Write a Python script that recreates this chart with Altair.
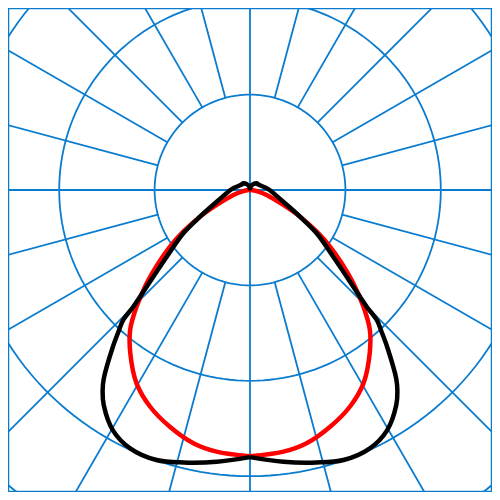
import altair as alt
import pandas as pd

BLUE = "#0a7ccf"

# polar grid
ring_values = [100, 200, 300, 400]
spoke_angles = list(range(0, 360, 15))

# red curve: angle from nadir (deg) and intensity (one half, symmetric)
red_gamma = [0, 7.3, 12.6, 18.7, 24.8, 30.4, 36.3, 40.6, 44.2, 47.9, 51.4, 54.7, 58, 61.9, 65.8, 73.3, 80, 85, 90]
red_value = [279, 276.5, 272, 262, 250, 235, 212, 193, 170.5, 146, 123, 103, 82.5, 59.4, 38.3, 18.2, 8, 3, 0]

# black curve
black_gamma = [0, 7, 13.7, 19.1, 24.9, 29.7, 34.2, 36.25, 37.8, 41.1, 42.9, 44.3, 45, 48.1, 51.3, 57, 61.9, 70.6, 80, 90, 96, 123, 135, 150, 165, 180]
black_value = [280, 287, 294, 299.5, 298.5, 290, 272.7, 261.3, 250, 219, 202.4, 190.3, 173, 136.2, 111.8, 83.3, 59.4, 37, 26.5, 20.5, 17.6, 10.5, 10, 7.3, 4.2, 1.6]


def closed_curve(gammas, values, name):
    rows = []
    k = 0
    for g, v in zip(gammas, values):
        rows.append({"series": name, "gamma": g, "side": -1, "value": v, "order": k})
        k += 1
    for g, v in zip(reversed(gammas[:-1]), reversed(values[:-1])):
        rows.append({"series": name, "gamma": g, "side": 1, "value": v, "order": k})
        k += 1
    return pd.DataFrame(rows)


red_df = closed_curve(red_gamma, red_value, "red")
black_df = closed_curve(black_gamma, black_value, "black")
rings_df = pd.DataFrame({"ring": ring_values})
spokes_df = pd.DataFrame({"angle": spoke_angles})

PX = 0.954
xscale = alt.Scale(domain=[-242 / PX, 242 / PX], nice=False, zero=False)
yscale = alt.Scale(domain=[-302 / PX, 182 / PX], nice=False, zero=False)


def curve(df, color):
    return (
        alt.Chart(df)
        .transform_calculate(
            px="datum.side * datum.value * sin(datum.gamma * PI / 180)",
            py="-datum.value * cos(datum.gamma * PI / 180)",
        )
        .mark_line(interpolate="catmull-rom", strokeWidth=4.5, color=color, clip=True)
        .encode(
            x=alt.X("px:Q", scale=xscale, axis=None),
            y=alt.Y("py:Q", scale=yscale, axis=None),
            order=alt.Order("order:Q"),
        )
    )


spokes = (
    alt.Chart(spokes_df)
    .transform_calculate(r0="(datum.angle % 90 == 0) ? 0 : 100")
    .transform_calculate(
        sx="datum.r0 * sin(datum.angle * PI / 180)",
        sy="datum.r0 * cos(datum.angle * PI / 180)",
        ex="1000 * sin(datum.angle * PI / 180)",
        ey="1000 * cos(datum.angle * PI / 180)",
    )
    .mark_rule(color=BLUE, strokeWidth=1.8, clip=True)
    .encode(
        x=alt.X("sx:Q", scale=xscale, axis=None),
        y=alt.Y("sy:Q", scale=yscale, axis=None),
        x2="ex:Q",
        y2="ey:Q",
    )
)

rings = (
    alt.Chart(rings_df)
    .transform_calculate(a="sequence(0, 362, 2)")
    .transform_flatten(["a"])
    .transform_calculate(
        rx="datum.ring * sin(datum.a * PI / 180)",
        ry="datum.ring * cos(datum.a * PI / 180)",
    )
    .mark_line(color=BLUE, strokeWidth=1.8, clip=True)
    .encode(
        x=alt.X("rx:Q", scale=xscale, axis=None),
        y=alt.Y("ry:Q", scale=yscale, axis=None),
        detail="ring:N",
        order=alt.Order("a:Q"),
    )
)

chart = (
    alt.layer(spokes, rings, curve(red_df, "#ff0000"), curve(black_df, "#000000"))
    .properties(
        width=484,
        height=484,
        padding=0,
        autosize=alt.AutoSizeParams(type="fit", contains="padding"),
    )
    .configure_view(stroke=BLUE, strokeWidth=2.5)
)

chart.save("out.html", embed_options={"renderer": "svg", "actions": False})
